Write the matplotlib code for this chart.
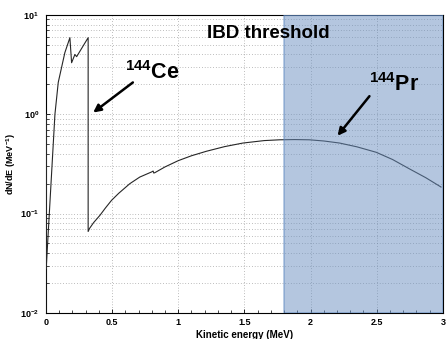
import numpy as np
import matplotlib
matplotlib.use("Agg")
import matplotlib.pyplot as plt
from matplotlib.ticker import MultipleLocator, FixedLocator, LogLocator, NullFormatter

plt.rcParams['font.family'] = ['Liberation Sans', 'DejaVu Sans']
plt.rcParams['font.weight'] = 'bold'
plt.rcParams['mathtext.fontset'] = 'custom'
plt.rcParams['mathtext.rm'] = 'Liberation Sans:bold'
plt.rcParams['mathtext.bf'] = 'Liberation Sans:bold'
plt.rcParams['mathtext.it'] = 'Liberation Sans:bold'
plt.rcParams['mathtext.default'] = 'bf'

# Ce-144 part of the spectrum (MeV, dN/dE)
ce_energy = [0.0, 0.0, 0.002, 0.068, 0.093, 0.143, 0.181, 0.194, 0.219, 0.232, 0.319]
ce_dnde = [0.01, 1.0, 0.028, 1.0, 2.09, 4.17, 5.9, 3.3, 4.0, 3.8, 5.9]

# Pr-144 part
pr_energy = [0.319, 0.33, 0.36, 0.408, 0.45, 0.496, 0.55, 0.634, 0.709, 0.80, 0.81,
             0.815, 0.823, 0.9, 1.0, 1.1, 1.213, 1.35, 1.489, 1.65, 1.766, 1.88,
             1.99, 2.1, 2.219, 2.35, 2.496, 2.62, 2.747, 2.87, 2.986]
pr_dnde = [0.066, 0.071, 0.081, 0.096, 0.114, 0.136, 0.160, 0.200, 0.233, 0.263, 0.268,
           0.256, 0.258, 0.295, 0.341, 0.382, 0.424, 0.472, 0.513, 0.543, 0.553, 0.556,
           0.553, 0.538, 0.513, 0.470, 0.414, 0.350, 0.282, 0.230, 0.185]

ibd_threshold = 1.8
xticks = [0, 0.5, 1, 1.5, 2, 2.5, 3]
xticklabels = ['0', '0.5', '1', '1.5', '2', '2.5', '3']
yticks = [1e-2, 1e-1, 1e0, 1e1]
yticklabels = [r'$10^{-2}$', r'$10^{-1}$', r'$10^{0}$', r'$10^{1}$']

fig = plt.figure(figsize=(4.46, 3.39), dpi=100)
ax = fig.add_axes([0.103, 0.077, 0.89, 0.879])

energy = ce_energy + pr_energy
dnde = ce_dnde + pr_dnde
ax.plot(energy, dnde, color='#262626', lw=0.8, zorder=3)

ax.set_yscale('log')
ax.set_xlim(0, 3)
ax.set_ylim(1e-2, 1e1)

ax.axvspan(ibd_threshold, 3.0, facecolor='#6a8fc0', alpha=0.5,
           edgecolor='#5b86c0', lw=1.2, zorder=4)

ax.set_xticks(xticks)
ax.set_xticklabels(xticklabels)
ax.xaxis.set_minor_locator(MultipleLocator(0.1))
ax.yaxis.set_major_locator(FixedLocator(yticks))
ax.set_yticklabels(yticklabels)
ax.yaxis.set_minor_locator(LogLocator(base=10, subs=np.arange(2, 10)))
ax.yaxis.set_minor_formatter(NullFormatter())

ax.tick_params(which='both', direction='in', labelsize=6.5)
ax.tick_params(which='major', length=3, width=0.6)
ax.tick_params(which='minor', length=2, width=0.5)
ax.tick_params(axis='y', pad=5)

ax.grid(True, axis='x', which='major', ls=(0, (1, 3)), color='#808080', lw=0.5)
ax.grid(True, axis='y', which='both', ls=(0, (1, 3)), color='#808080', lw=0.5)
for s in ax.spines.values():
    s.set_linewidth(0.8)

ax.set_xlabel('Kinetic energy (MeV)', fontsize=7, fontweight='bold', labelpad=2)
ax.set_ylabel(r'dN/dE (MeV$^{-1}$)', fontsize=6.5, fontweight='bold', labelpad=1)

ax.text(1.215, 5.9, 'IBD threshold', fontsize=13.5, fontweight='bold',
        ha='left', va='baseline', zorder=6)
ax.text(0.596, 2.24, r'$^{144}$Ce', fontsize=15.5, fontweight='bold',
        ha='left', va='baseline', zorder=6)
ax.text(2.445, 1.70, r'$^{144}$Pr', fontsize=15.5, fontweight='bold',
        ha='left', va='baseline', zorder=6)

arrow = dict(arrowstyle='-|>', lw=1.8, color='black', mutation_scale=11,
             shrinkA=0, shrinkB=0)
ax.annotate('', xy=(0.357, 1.04), xytext=(0.657, 2.09), arrowprops=arrow, zorder=6)
ax.annotate('', xy=(2.204, 0.607), xytext=(2.445, 1.52), arrowprops=arrow, zorder=6)

fig.savefig('out.png', dpi=100)
